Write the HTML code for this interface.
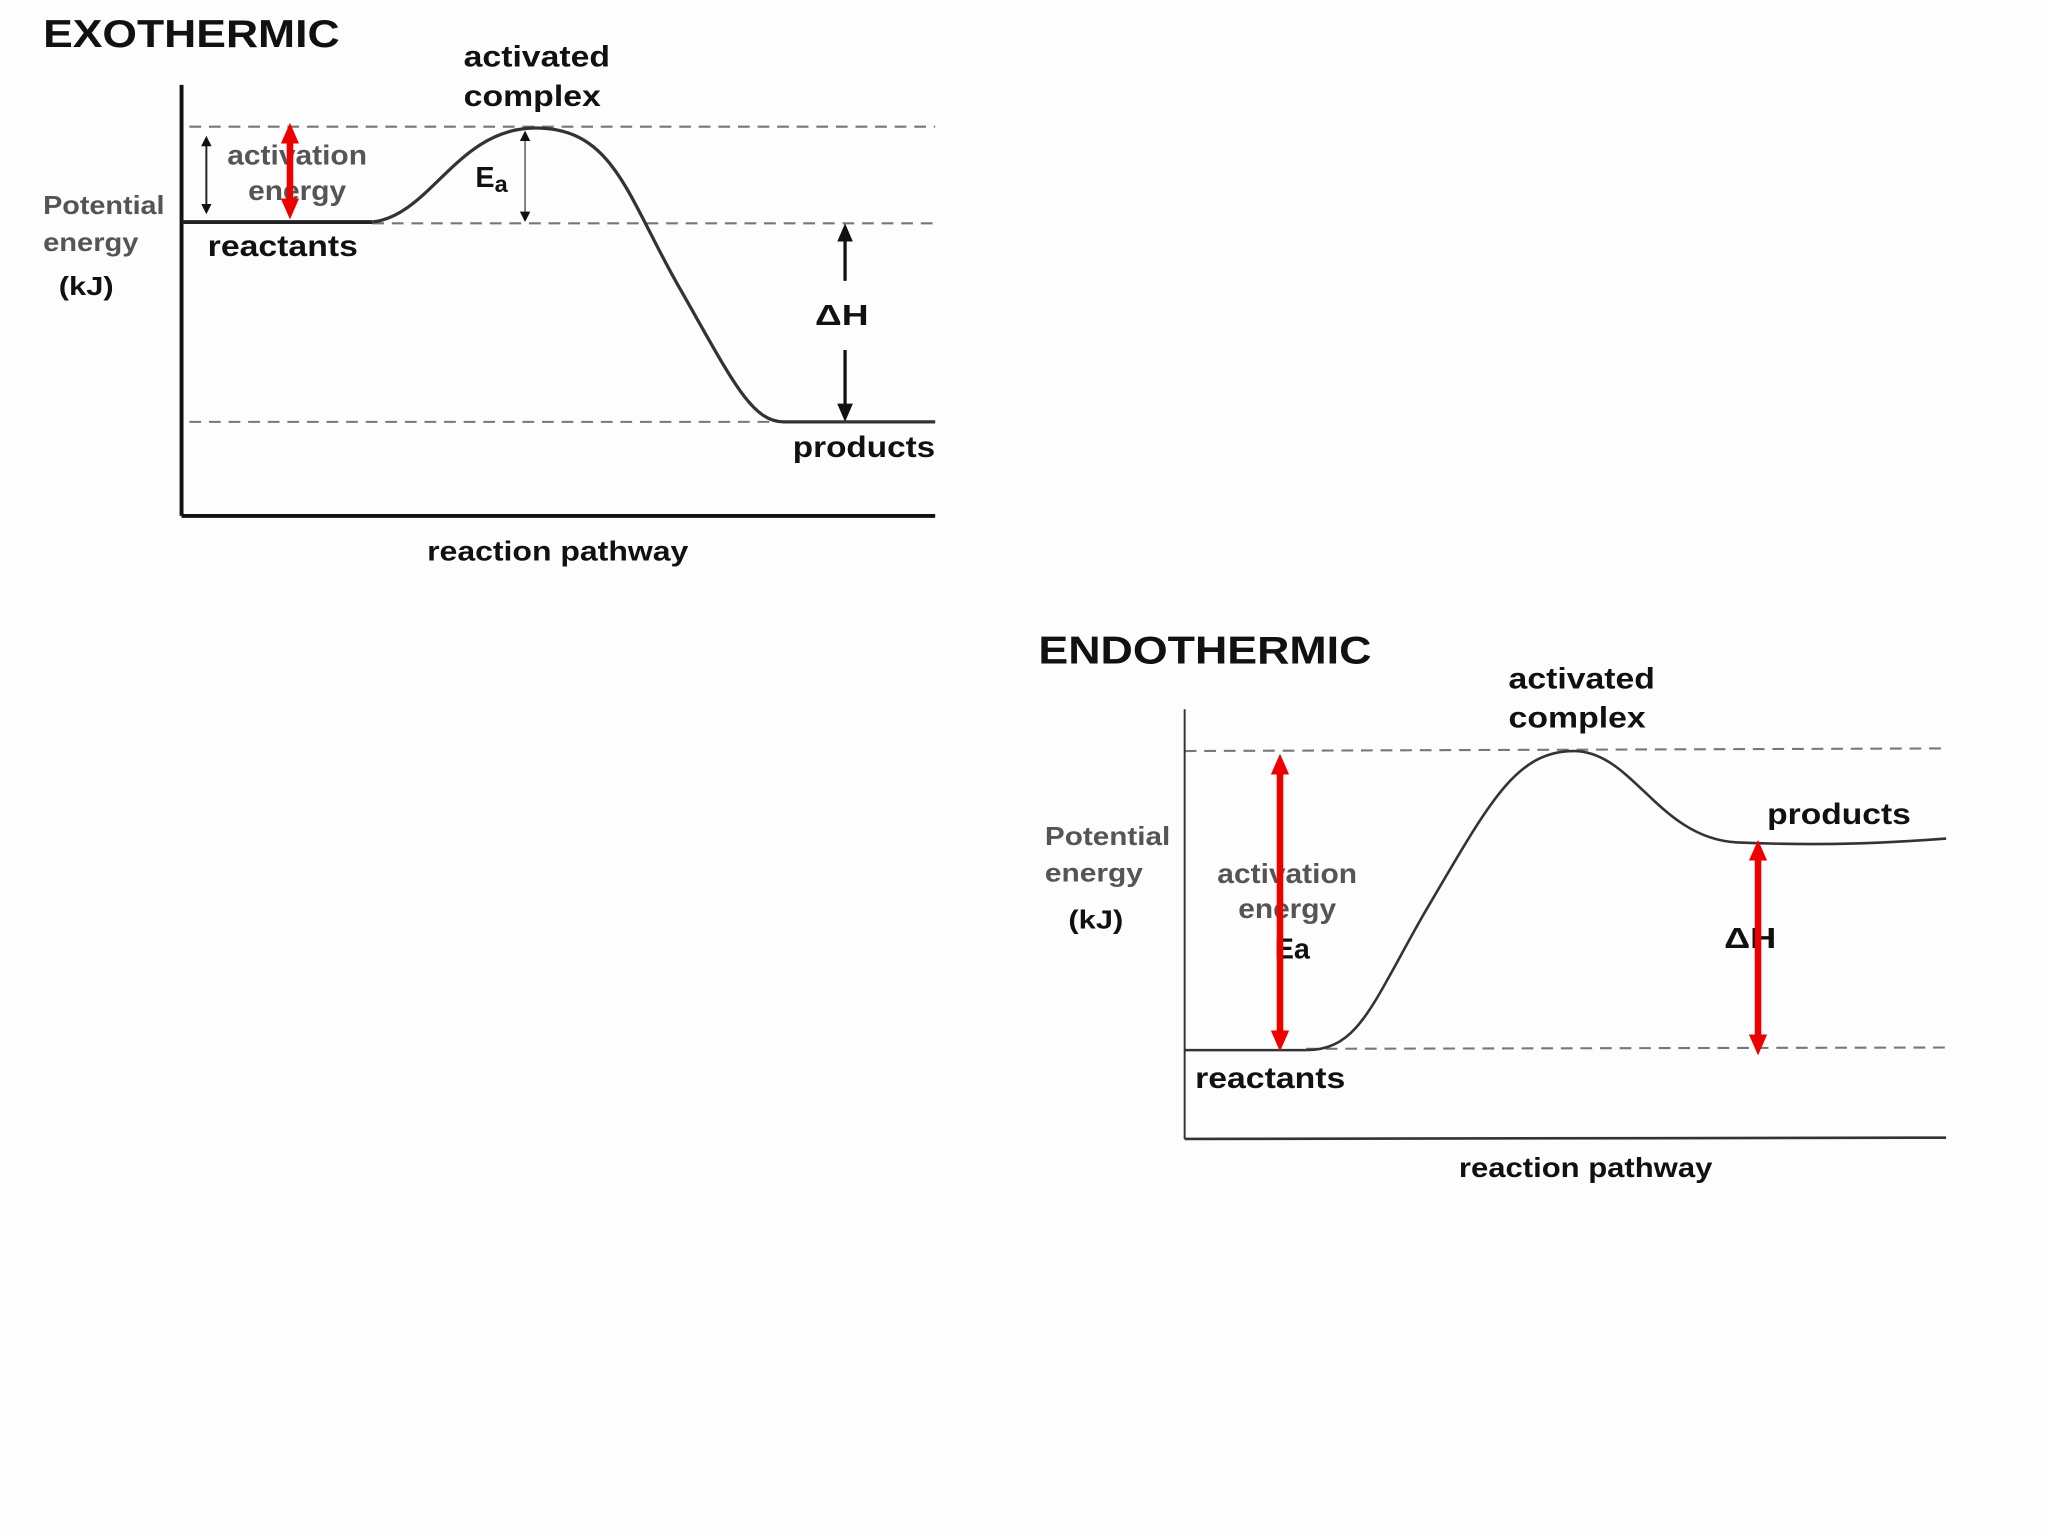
<!DOCTYPE html>
<html><head><meta charset="utf-8"><style>
html,body{margin:0;padding:0;background:#fdfdfd;}
svg{display:block}
text{font-family:"Liberation Sans",Arial,sans-serif;font-weight:bold;fill:#111}
.g{fill:#555}
</style></head><body>
<svg width="2048" height="1536" viewBox="0 0 1568 1176" xmlns="http://www.w3.org/2000/svg">
<defs>
<marker id="ab" markerWidth="8" markerHeight="8" refX="4" refY="4" orient="auto-start-reverse" markerUnits="userSpaceOnUse"><path d="M0,0 L8,4 L0,8 z" fill="#111"/></marker>
<marker id="ar" markerWidth="16" markerHeight="14" refX="8" refY="7" orient="auto-start-reverse" markerUnits="userSpaceOnUse"><path d="M0,0 L16,7 L0,14 z" fill="#e00"/></marker>
<marker id="abig" markerWidth="14" markerHeight="12" refX="7" refY="6" orient="auto-start-reverse" markerUnits="userSpaceOnUse"><path d="M0,0 L14,6 L0,12 z" fill="#111"/></marker>
</defs>
<rect width="1568" height="1176" fill="#fdfdfd"/>

<!-- EXOTHERMIC -->
<text x="33" y="36" font-size="30" textLength="227" lengthAdjust="spacingAndGlyphs">EXOTHERMIC</text>
<g stroke="#777" stroke-width="1.6" stroke-dasharray="9,6" fill="none">
<line x1="145" y1="97" x2="716" y2="97"/>
<line x1="285" y1="171" x2="716" y2="171"/>
<line x1="145" y1="323" x2="716" y2="323"/>
</g>
<line x1="139" y1="65" x2="139" y2="395" stroke="#111" stroke-width="3"/>
<line x1="139" y1="395" x2="716" y2="395" stroke="#111" stroke-width="3"/>
<line x1="139" y1="170" x2="285" y2="170" stroke="#222" stroke-width="3"/>
<path d="M285,170 C330,165 350,98 410,98 C470,98 480,150 520,220 C560,290 575,323 600,323 L716,323" stroke="#333" stroke-width="2.5" fill="none"/>
<line x1="158" y1="108" x2="158" y2="160" stroke="#222" stroke-width="1.5" marker-start="url(#ab)" marker-end="url(#ab)"/>
<line x1="402" y1="104" x2="402" y2="166" stroke="#444" stroke-width="1" marker-start="url(#ab)" marker-end="url(#ab)"/>
<line x1="647" y1="215" x2="647" y2="178" stroke="#111" stroke-width="2.5" marker-end="url(#abig)"/>
<line x1="647" y1="268" x2="647" y2="316" stroke="#111" stroke-width="2.5" marker-end="url(#abig)"/>
<text x="355" y="51" font-size="23" textLength="112" lengthAdjust="spacingAndGlyphs">activated</text>
<text x="355" y="81" font-size="23" textLength="105" lengthAdjust="spacingAndGlyphs">complex</text>
<text x="174" y="126" font-size="21" class="g" textLength="107" lengthAdjust="spacingAndGlyphs">activation</text>
<text x="190" y="153" font-size="21" class="g" textLength="75" lengthAdjust="spacingAndGlyphs">energy</text>
<line x1="222" y1="102" x2="222" y2="160" stroke="#e00" stroke-width="5" marker-start="url(#ar)" marker-end="url(#ar)"/>
<text x="159" y="196" font-size="23" textLength="115" lengthAdjust="spacingAndGlyphs">reactants</text>
<text x="607" y="350" font-size="23" textLength="109" lengthAdjust="spacingAndGlyphs">products</text>
<text x="327" y="429" font-size="21" textLength="200" lengthAdjust="spacingAndGlyphs">reaction pathway</text>
<text x="33" y="164" font-size="20" class="g" textLength="93" lengthAdjust="spacingAndGlyphs">Potential</text>
<text x="33" y="192" font-size="20" class="g" textLength="73" lengthAdjust="spacingAndGlyphs">energy</text>
<text x="45" y="226" font-size="20" textLength="42" lengthAdjust="spacingAndGlyphs">(kJ)</text>
<text x="364" y="143" font-size="22">E<tspan font-size="18" dy="4">a</tspan></text>
<text x="624" y="249" font-size="22" textLength="41" lengthAdjust="spacingAndGlyphs">ΔH</text>

<!-- ENDOTHERMIC -->
<text x="795" y="508" font-size="30" textLength="255" lengthAdjust="spacingAndGlyphs">ENDOTHERMIC</text>
<g stroke="#777" stroke-width="1.6" stroke-dasharray="9,6" fill="none">
<line x1="907" y1="575" x2="1490" y2="573"/>
<line x1="1000" y1="803" x2="1490" y2="802"/>
</g>
<line x1="907" y1="543" x2="907" y2="872" stroke="#333" stroke-width="1.5"/>
<line x1="907" y1="872" x2="1490" y2="871" stroke="#333" stroke-width="2"/>
<line x1="907" y1="804" x2="1000" y2="804" stroke="#333" stroke-width="2"/>
<path d="M1000,804 C1040,804 1050,770 1090,700 C1140,615 1160,575 1205,575 C1250,575 1270,642 1330,645 C1400,648 1450,645 1490,642" stroke="#333" stroke-width="2" fill="none"/>
<text x="1155" y="527" font-size="23" textLength="112" lengthAdjust="spacingAndGlyphs">activated</text>
<text x="1155" y="557" font-size="23" textLength="105" lengthAdjust="spacingAndGlyphs">complex</text>
<text x="800" y="647" font-size="20" class="g" textLength="96" lengthAdjust="spacingAndGlyphs">Potential</text>
<text x="800" y="675" font-size="20" class="g" textLength="75" lengthAdjust="spacingAndGlyphs">energy</text>
<text x="818" y="711" font-size="20" textLength="42" lengthAdjust="spacingAndGlyphs">(kJ)</text>
<text x="932" y="676" font-size="21" class="g" textLength="107" lengthAdjust="spacingAndGlyphs">activation</text>
<text x="948" y="703" font-size="21" class="g" textLength="75" lengthAdjust="spacingAndGlyphs">energy</text>
<text x="976" y="734" font-size="22">Ea</text>
<line x1="980" y1="585" x2="980" y2="797" stroke="#e00" stroke-width="5" marker-start="url(#ar)" marker-end="url(#ar)"/>
<text x="1353" y="631" font-size="23" textLength="110" lengthAdjust="spacingAndGlyphs">products</text>
<text x="1320" y="726" font-size="22" textLength="40" lengthAdjust="spacingAndGlyphs">ΔH</text>
<line x1="1346" y1="651" x2="1346" y2="800" stroke="#e00" stroke-width="5" marker-start="url(#ar)" marker-end="url(#ar)"/>
<text x="915" y="833" font-size="23" textLength="115" lengthAdjust="spacingAndGlyphs">reactants</text>
<text x="1117" y="901" font-size="21" textLength="194" lengthAdjust="spacingAndGlyphs">reaction pathway</text>
</svg>
</body></html>
